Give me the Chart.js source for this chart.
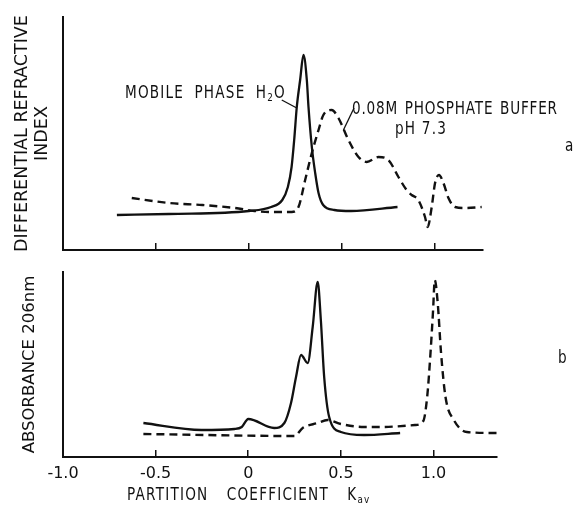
<!DOCTYPE html>
<html>
<head>
<meta charset="utf-8">
<title>Partition coefficient</title>
<script src="https://cdn.jsdelivr.net/npm/chart.js@4.4.1/dist/chart.umd.min.js"></script>
<style>
  body { margin: 0; background: #fff; }
  #wrap { position: relative; width: 573px; height: 508px; font-family: "DejaVu Sans", sans-serif; color: #111; }
  #wrap canvas { position: absolute; left: 0; }
  #top { top: 0; }
  #bot { top: 262px; }
  .lab { position: absolute; white-space: nowrap; font-size: 17px; line-height: 20px; letter-spacing: 1.5px; transform: scaleX(0.8); transform-origin: left center; }
  .lab sub { font-size: 11px; vertical-align: -3px; line-height: 0; }
</style>
</head>
<body>
<div id="wrap">
  <canvas id="top" width="573" height="262" style="width:573px;height:262px"></canvas>
  <canvas id="bot" width="573" height="246" style="width:573px;height:246px"></canvas>

  <div class="lab" style="left:125px;top:82px;word-spacing:6px">MOBILE PHASE H<sub>2</sub>O</div>
  <div class="lab" style="left:352px;top:98px;letter-spacing:1px;word-spacing:2px">0.08M PHOSPHATE BUFFER</div>
  <div class="lab" style="left:395px;top:118px">pH 7.3</div>
  <div class="lab" style="left:565px;top:135px">a</div>
  <div class="lab" style="left:558px;top:347px">b</div>
  <div class="lab" style="left:127px;top:484px;word-spacing:16px">PARTITION COEFFICIENT K<sub>av</sub></div>
</div>

<script>
// x ticks shared by both panels
const xTicks = [-1, -0.5, 0, 0.5, 1];
const xTickLabels = ['-1.0', '-0.5', '0', '0.5', '1.0'];

// (a) differential refractive index, mobile phase H2O (solid)
const kTopWater  = [-0.71, -0.43, 0.0, 0.12, 0.18, 0.21, 0.23, 0.244, 0.258, 0.276, 0.294, 0.312, 0.321, 0.339, 0.357, 0.375, 0.40, 0.46, 0.55, 0.80];
const riTopWater = [35, 36, 39, 43, 50, 63, 83, 110, 143, 170, 195, 170, 143, 103, 77, 57, 45, 40, 39, 43];

// (a) 0.08M phosphate buffer pH 7.3 (dashed)
const kTopBuffer  = [-0.63, -0.43, -0.25, -0.075, 0.03, 0.12, 0.23, 0.267, 0.303, 0.339, 0.375, 0.401, 0.446, 0.482, 0.536, 0.59, 0.634, 0.697, 0.751, 0.805, 0.849, 0.876, 0.912, 0.948, 0.962, 0.984, 1.002, 1.023, 1.047, 1.074, 1.11, 1.163, 1.253];
const riTopBuffer = [52, 47, 45, 42, 39, 38, 38, 43, 70, 97, 120, 135, 140, 132, 110, 93, 88, 93, 90, 73, 60, 55, 50, 33, 23, 43, 67, 75, 67, 52, 43, 42, 43];

// (b) absorbance 206nm, water (solid)
const kBotWater  = [-0.566, -0.253, -0.074, -0.035, 0.0, 0.14, 0.195, 0.231, 0.258, 0.285, 0.321, 0.348, 0.375, 0.392, 0.41, 0.437, 0.5, 0.625, 0.82];
const absBotWater = [34, 27, 28, 30, 38, 29, 34, 54, 80, 102, 94, 130, 175, 137, 80, 40, 25, 22, 24];

// (b) absorbance 206nm, buffer (dashed)
const kBotBuffer  = [-0.566, 0.25, 0.294, 0.375, 0.428, 0.5, 0.625, 0.715, 0.90, 0.945, 0.966, 0.984, 0.998, 1.007, 1.023, 1.041, 1.065, 1.11, 1.18, 1.343];
const absBotBuffer = [23, 21, 29, 34, 37, 33, 30, 30, 32, 36, 60, 104, 147, 177, 154, 104, 60, 37, 25, 24];

// leader lines from labels to curves, in data units [k1, v1, k2, v2]
const topLeaders = [
  [0.177, 150, 0.258, 142],
  [0.566, 142, 0.509, 120]
];

function pts(xs, ys) {
  return xs.map((x, i) => ({ x: x, y: ys[i] }));
}

const ink = '#111';

const leaderPlugin = {
  id: 'leaders',
  afterDatasetsDraw(chart, args, opts) {
    const ctx = chart.ctx, x = chart.scales.x, y = chart.scales.y;
    ctx.save();
    ctx.strokeStyle = ink;
    ctx.lineWidth = 1.3;
    (opts.lines || []).forEach(l => {
      ctx.beginPath();
      ctx.moveTo(x.getPixelForValue(l[0]), y.getPixelForValue(l[1]));
      ctx.lineTo(x.getPixelForValue(l[2]), y.getPixelForValue(l[3]));
      ctx.stroke();
    });
    ctx.restore();
  }
};

function solid(data) {
  return { data: data, borderColor: ink, borderWidth: 2.3, pointRadius: 0, cubicInterpolationMode: 'monotone', fill: false };
}
function dashed(data) {
  return { data: data, borderColor: ink, borderWidth: 2.4, borderDash: [8, 5], pointRadius: 0, cubicInterpolationMode: 'monotone', fill: false };
}

function xScale(max, showLabels, height) {
  return {
    type: 'linear',
    min: -1,
    max: max,
    afterBuildTicks: s => { s.ticks = xTicks.map(v => ({ value: v })); },
    ticks: {
      display: showLabels,
      color: ink,
      padding: 14,
      font: { family: 'DejaVu Sans', size: 16 },
      callback: (v, i) => xTickLabels[i]
    },
    grid: { drawOnChartArea: false, tickLength: -7, color: ink, lineWidth: 1.5 },
    border: { color: ink, width: 2 },
    afterFit: s => { s.height = height; }
  };
}

function yScale(max, title, size, pad) {
  return {
    min: 0,
    max: max,
    ticks: { display: false },
    grid: { display: false },
    border: { color: ink, width: 2 },
    title: { display: true, text: title, color: ink, font: { family: 'DejaVu Sans', size: size, lineHeight: '20px' }, padding: { top: pad, bottom: 0 } },
    afterFit: s => { s.width = 63; }
  };
}

new Chart(document.getElementById('top'), {
  type: 'line',
  data: { datasets: [ solid(pts(kTopWater, riTopWater)), dashed(pts(kTopBuffer, riTopBuffer)) ] },
  options: {
    responsive: false,
    animation: false,
    layout: { padding: { top: 17, right: 90, left: 0, bottom: 0 } },
    plugins: { legend: { display: false }, tooltip: { enabled: false }, leaders: { lines: topLeaders } },
    scales: {
      x: xScale(1.26, false, 12),
      y: yScale(233, ['DIFFERENTIAL REFRACTIVE', 'INDEX'], 17.5, 12)
    }
  },
  plugins: [leaderPlugin]
});

new Chart(document.getElementById('bot'), {
  type: 'line',
  data: { datasets: [ solid(pts(kBotWater, absBotWater)), dashed(pts(kBotBuffer, absBotBuffer)) ] },
  options: {
    responsive: false,
    animation: false,
    layout: { padding: { top: 10, right: 76, left: 0, bottom: 0 } },
    plugins: { legend: { display: false }, tooltip: { enabled: false } },
    scales: {
      x: xScale(1.343, true, 51),
      y: yScale(185, 'ABSORBANCE 206nm', 16.5, 20)
    }
  }
});
</script>
</body>
</html>
